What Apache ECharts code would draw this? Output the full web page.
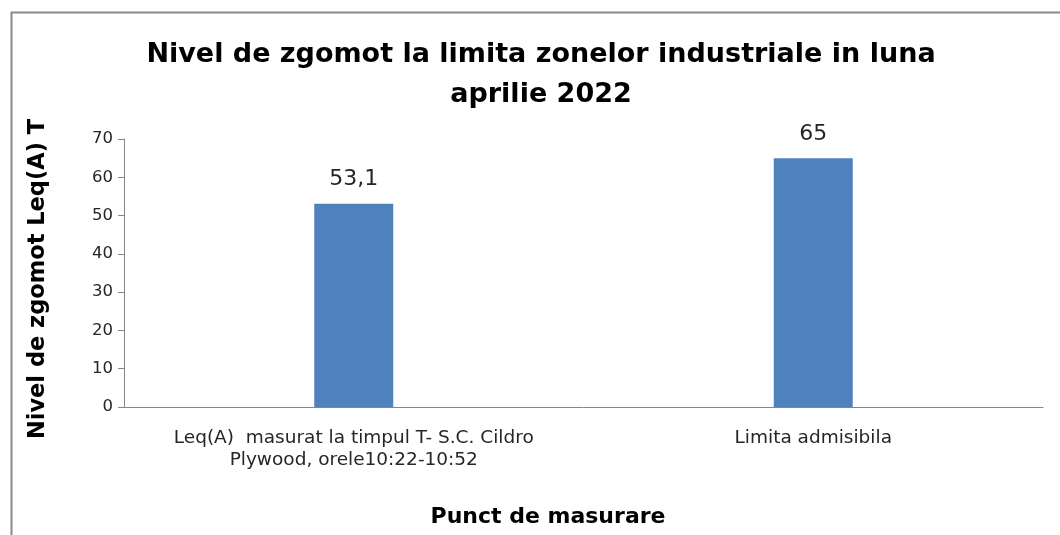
<!DOCTYPE html>
<html>
<head>
<meta charset="utf-8">
<script src="https://cdn.jsdelivr.net/npm/echarts@6/dist/echarts.min.js"></script>
<style>html,body{margin:0;padding:0;background:#fff;}#c{width:1060px;height:535px;}</style>
</head>
<body>
<div id="c"></div>
<script>
var categories = ['Leq(A)  masurat la timpul T- S.C. Cildro\nPlywood, orele10:22-10:52', 'Limita admisibila'];
var values = [53.1, 65];
var yTicks = {min: 0, max: 70, interval: 10};
var titleText = 'Nivel de zgomot la limita zonelor industriale in luna\naprilie 2022';
var yName = 'Nivel de zgomot Leq(A) T';
var xName = 'Punct de masurare';

var FONT = 'DejaVu Sans';
var chart = echarts.init(document.getElementById('c'));
chart.setOption({
  animation: false,
  backgroundColor: '#fff',
  graphic: [{
    type: 'rect', left: 9, top: 10, shape: {width: 1070, height: 560},
    style: {fill: 'none', stroke: '#8a8a8a', lineWidth: 2}, silent: true
  }],
  title: {
    text: titleText, left: 536, textAlign: 'center', top: 30,
    textStyle: {fontFamily: FONT, fontSize: 27, fontWeight: 'bold', color: '#000', lineHeight: 40}
  },
  grid: {left: 124, right: 17, top: 139, bottom: 128, containLabel: false},
  xAxis: {
    type: 'category', data: categories,
    name: xName, nameLocation: 'middle', nameGap: 99,
    nameTextStyle: {fontFamily: FONT, fontSize: 22, fontWeight: 'bold', color: '#000', padding: [0, 71, 0, 0]},
    axisLine: {lineStyle: {color: '#868686', width: 1}},
    axisTick: {show: false},
    axisLabel: {fontFamily: FONT, fontSize: 18.5, color: '#262626', lineHeight: 22, margin: 20, interval: 0}
  },
  yAxis: {
    type: 'value', min: yTicks.min, max: yTicks.max, interval: yTicks.interval,
    name: yName, nameLocation: 'middle', nameGap: 74, nameRotate: 90,
    nameTextStyle: {fontFamily: FONT, fontSize: 22.5, fontWeight: 'bold', color: '#000', padding: [0, 12, 0, 0]},
    axisLine: {show: true, lineStyle: {color: '#868686', width: 1}},
    axisTick: {show: true, length: 6, lineStyle: {color: '#868686'}},
    splitLine: {show: false},
    axisLabel: {fontFamily: FONT, fontSize: 16.5, color: '#262626', margin: 11}
  },
  series: [{
    type: 'bar', data: values, barWidth: 79,
    itemStyle: {color: '#4F81BD'},
    label: {
      show: true, position: 'top', distance: 13,
      fontFamily: FONT, fontSize: 22, color: '#262626',
      formatter: function (p) { return String(p.value).replace('.', ','); }
    }
  }]
});
</script>
</body>
</html>
